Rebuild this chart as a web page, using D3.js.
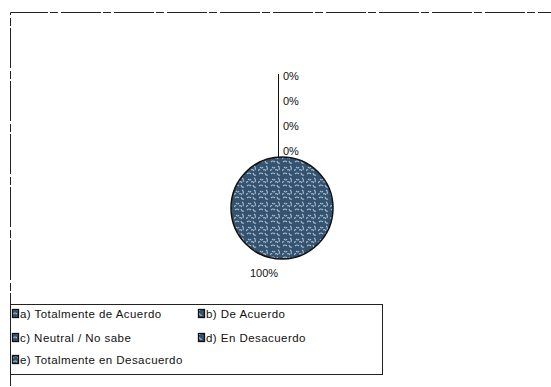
<!DOCTYPE html>
<html><head><meta charset="utf-8">
<script src="https://cdn.jsdelivr.net/npm/d3@7"></script>
<style>body{margin:0;background:#fff}svg{display:block}text{font-family:"Liberation Sans",Arial,sans-serif;fill:#111}</style>
</head><body><svg id="c" width="551" height="387"></svg>
<script>
const categories = ["a) Totalmente de Acuerdo","b) De Acuerdo","c) Neutral / No sabe","d) En Desacuerdo","e) Totalmente en Desacuerdo"];
const values = [100, 0, 0, 0, 0];
const labels = ["100%","0%","0%","0%","0%"];

const svg = d3.select("#c");
const defs = svg.append("defs");
const pat = defs.append("pattern").attr("id","tex").attr("patternUnits","userSpaceOnUse").attr("width",12).attr("height",12);
pat.append("rect").attr("width",12).attr("height",12).attr("fill","#35526e");
pat.append("path").attr("d","M1,2 q2,-2 4,0 M7,1 q1,3 3,2 M2,7 q2,2 3,0 M8,6 q2,1 1,4 M5,10 q2,-1 3,1 M0,11 q1,-2 2,-1")
  .attr("stroke","#a6bed4").attr("stroke-width",1.1).attr("fill","none");

svg.append("path").attr("d","M10.5,386 V12.5 H551").attr("fill","none").attr("stroke","#222").attr("stroke-width",1).attr("stroke-dasharray","40,2,8,3");

const cx = 282, cy = 208, r = 51;
const pie = d3.pie().sort(null).value(d => d)(values);
const arc = d3.arc().innerRadius(0).outerRadius(r);
const g = svg.append("g").attr("transform",`translate(${cx},${cy})`);
g.selectAll("path.s").data(pie.filter(d => d.value > 0)).join("path").attr("class","s")
  .attr("d",arc).attr("fill","url(#tex)").attr("stroke","#111").attr("stroke-width",1.5);

let zi = 0;
const zeroY = [];
pie.forEach((d,i) => {
  if (d.value > 0) {
    const a = (d.startAngle + d.endAngle)/2;
    g.append("text").attr("x", Math.sin(a)*(r+14) - 18).attr("y", -Math.cos(a)*(r+14) + 4)
      .attr("text-anchor","middle").attr("font-size",11).text(labels[i]);
  } else {
    const y = -r - 6 - zi*25;
    zeroY.push(y);
    g.append("text").attr("x", 1).attr("y", y + 4).attr("font-size",11).text(labels[i]);
    zi++;
  }
});
if (zeroY.length) {
  g.append("line").attr("x1",-3.5).attr("x2",-3.5).attr("y1",-r+1).attr("y2",d3.min(zeroY)-2)
    .attr("stroke","#111").attr("stroke-width",1);
}

svg.append("rect").attr("x",10.5).attr("y",304.5).attr("width",372).attr("height",70)
  .attr("fill","none").attr("stroke","#222").attr("stroke-width",1);
const lg = svg.append("g");
const colX = [12, 198], rowY = [314, 338, 360];
categories.forEach((c,i) => {
  const x = colX[i%2], y = rowY[Math.floor(i/2)];
  lg.append("rect").attr("x",x+0.5).attr("y",y-4.5).attr("width",6).attr("height",8)
    .attr("fill","url(#tex)").attr("stroke","#111").attr("stroke-width",1.3);
  lg.append("text").attr("x",x+8).attr("y",y+4).attr("font-size",11.5).attr("letter-spacing",0.45).text(c);
});
</script></body></html>
